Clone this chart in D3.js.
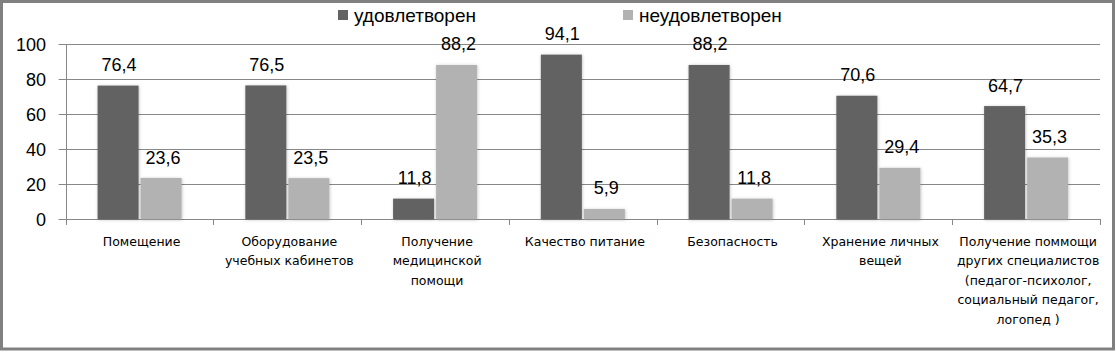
<!DOCTYPE html>
<html><head><meta charset="utf-8">
<script src="https://cdn.jsdelivr.net/npm/d3@7"></script>
<style>body{margin:0;background:#fff}svg{display:block}</style>
</head><body>
<svg id="c" width="1116" height="352"></svg>
<script>
const categories = [
  ["Помещение"],
  ["Оборудование","учебных кабинетов"],
  ["Получение","медицинской","помощи"],
  ["Качество питание"],
  ["Безопасность"],
  ["Хранение личных","вещей"],
  ["Получение поммощи","других специалистов","(педагог-психолог,","социальный педагог,","логопед )"]
];
const seriesNames = ["удовлетворен","неудовлетворен"];
const satisfied = [76.4, 76.5, 11.8, 94.1, 88.2, 70.6, 64.7];
const unsatisfied = [23.6, 23.5, 88.2, 5.9, 11.8, 29.4, 35.3];
const yTicks = [0, 20, 40, 60, 80, 100];
const colors = ["#626262", "#b2b2b2"];

(function(){
const svg = d3.select("#c");
const W = 1116, H = 352;
const pL = 65.7, pR = 1100, pT = 44.3, pB = 219.3;

const defs = svg.append("defs");
const f = defs.append("filter").attr("id","sh").attr("x","-20%").attr("y","-20%").attr("width","140%").attr("height","140%");
f.append("feDropShadow").attr("dx",0.5).attr("dy",0.5).attr("stdDeviation",1.6).attr("flood-color","#000").attr("flood-opacity",0.25);

svg.append("rect").attr("x",1.5).attr("y",1.5).attr("width",W-4).attr("height",H-4.5)
  .attr("fill","#fff").attr("stroke","#808080").attr("stroke-width",3);

const x0 = d3.scaleBand().domain(d3.range(categories.length)).range([pL, pR]);
const y = d3.scaleLinear().domain([0, 100]).range([pB, pT]);
const barW = 41;
const x1 = d3.scaleBand().domain([0,1]).range([-barW, barW]);

svg.append("g").selectAll("line").data(yTicks).join("line")
  .attr("x1", pL - 7).attr("x2", pR).attr("y1", d => Math.round(y(d))+0.5).attr("y2", d => Math.round(y(d))+0.5)
  .attr("stroke","#878787").attr("stroke-width",1);
svg.append("line").attr("x1",Math.round(pL)+0.5).attr("x2",Math.round(pL)+0.5).attr("y1",y(100)).attr("y2",y(0))
  .attr("stroke","#878787");
svg.append("g").selectAll("text").data(yTicks).join("text")
  .attr("x", 46).attr("y", d => y(d)).attr("dy","0.36em").attr("text-anchor","end")
  .attr("font-family","Liberation Sans, Arial, sans-serif").attr("font-size",18).attr("fill","#000")
  .text(d => d);
const bounds = d3.range(categories.length + 1).map(i => pL + i * x0.step());
svg.append("g").selectAll("line").data(bounds).join("line")
  .attr("x1", d => Math.round(d)+0.5).attr("x2", d => Math.round(d)+0.5)
  .attr("y1", Math.round(y(0))).attr("y2", Math.round(y(0)) + 6).attr("stroke","#878787");

const series = [satisfied, unsatisfied];
series.forEach((vals, s) => {
  const g = svg.append("g");
  g.selectAll("rect").data(vals).join("rect")
    .attr("x", (d,i) => x0(i) + x0.bandwidth()/2 + x1(s) + (s === 0 ? -1 : 1))
    .attr("width", x1.bandwidth())
    .attr("y", d => y(d)).attr("height", d => y(0) - y(d))
    .attr("fill", colors[s]).attr("filter","url(#sh)");
  g.selectAll("text").data(vals).join("text")
    .attr("x", (d,i) => x0(i) + x0.bandwidth()/2 + x1(s) + x1.bandwidth()/2 + (s === 0 ? 0 : 3))
    .attr("y", d => y(d) - 14.5)
    .attr("text-anchor","middle")
    .attr("font-family","Liberation Sans, Arial, sans-serif").attr("font-size",18).attr("fill","#000")
    .text(d => String(d).replace(".", ","));
});

const cl = svg.append("g");
categories.forEach((lines, i) => {
  const cx = x0(i) + x0.bandwidth()/2 + 2;
  const t = cl.append("text").attr("x", cx).attr("y", 246)
    .attr("text-anchor","middle").attr("font-family","DejaVu Sans, sans-serif").attr("font-size",12.5).attr("fill","#000");
  lines.forEach((ln, j) => t.append("tspan").attr("x", cx).attr("y", 246 + j*19.4).text(ln));
});

const legX = [338, 623];
seriesNames.forEach((n, s) => {
  svg.append("rect").attr("x", legX[s]).attr("y", 10).attr("width",10).attr("height",10).attr("fill",colors[s]);
  svg.append("text").attr("x", legX[s] + 16).attr("y", 15).attr("dy","0.36em")
    .attr("font-family","Liberation Sans, Arial, sans-serif").attr("font-size",19).attr("fill","#000").text(n);
});
})();
</script>
</body></html>
